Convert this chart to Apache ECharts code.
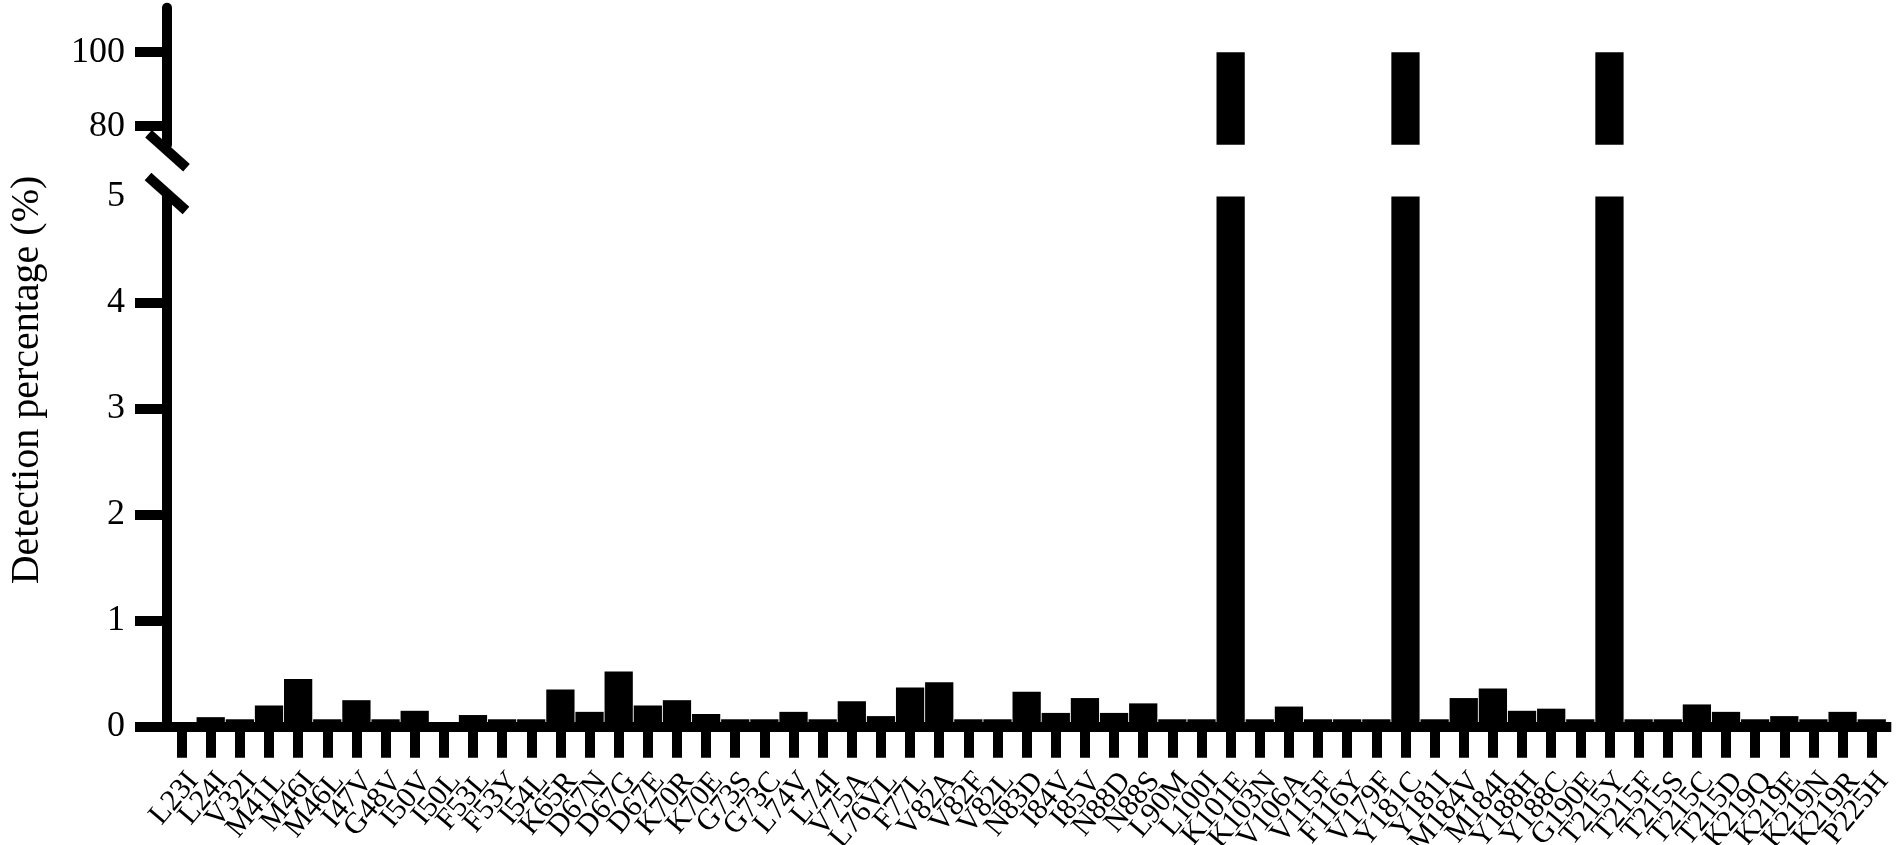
<!DOCTYPE html>
<html>
<head>
<meta charset="utf-8">
<script src="https://cdn.jsdelivr.net/npm/echarts@6/dist/echarts.min.js"></script>
<style>
  html, body { margin: 0; background: #fff; }
  #chart { width: 1902px; height: 845px; }
</style>
</head>
<body>
<div id="chart"></div>
<script>
// mutations on the x axis
const mutations = ['L23I', 'L24I', 'V32I', 'M41L', 'M46I', 'M46L', 'I47V', 'G48V', 'I50V', 'I50L',
  'F53L', 'F53Y', 'I54L', 'K65R', 'D67N', 'D67G', 'D67E', 'K70R', 'K70E', 'G73S',
  'G73C', 'L74V', 'L74I', 'V75A', 'L76VL', 'F77L', 'V82A', 'V82F', 'V82L', 'N83D',
  'I84V', 'I85V', 'N88D', 'N88S', 'L90M', 'L100I', 'K101E', 'K103N', 'V106A', 'V115F',
  'F116Y', 'V179F', 'Y181C', 'Y181I', 'M184V', 'M184I', 'Y188H', 'Y188C', 'G190E', 'T215Y',
  'T215F', 'T215S', 'T215C', 'T215D', 'K219Q', 'K219E', 'K219N', 'K219R', 'P225H'];
// detection percentage (%)
const detection = [0.04, 0.09, 0.07, 0.2, 0.45, 0.07, 0.25, 0.07, 0.15, 0.04,
  0.11, 0.07, 0.07, 0.35, 0.14, 0.52, 0.2, 0.25, 0.12, 0.07,
  0.07, 0.14, 0.07, 0.24, 0.1, 0.37, 0.42, 0.07, 0.07, 0.33,
  0.13, 0.27, 0.13, 0.22, 0.07, 0.07, 100, 0.07, 0.19, 0.07,
  0.07, 0.07, 100, 0.07, 0.27, 0.36, 0.15, 0.17, 0.07, 100,
  0.07, 0.07, 0.21, 0.14, 0.07, 0.1, 0.07, 0.14, 0.07];
// y tick values, lower and upper segment of the broken axis
const lowTicks = [0, 1, 2, 3, 4];
const lowLabels = [0, 1, 2, 3, 4, 5];
const highTicks = [80, 100];
const lowRange = [0, 5];
const highRange = [75, 112];

const FONT = 'Liberation Serif';
const gridLeft = 167, gridRight = 15.7;

let chart = echarts.init(document.getElementById('chart'));

const yCommon = {
  type: 'value',
  splitLine: { show: false },
  axisLine: { show: true, lineStyle: { color: '#000', width: 10 } },
  axisTick: { show: true, length: 32, lineStyle: { color: '#000', width: 10 } },
  axisLabel: { color: '#000', fontFamily: FONT, fontSize: 36, margin: 42 }
};

let option = {
  animation: false,
  backgroundColor: '#fff',
  grid: [
    { left: gridLeft, right: gridRight, top: 7.8, height: 136.9, outerBoundsMode: 'none' },
    { left: gridLeft, right: gridRight, top: 196.5, bottom: 118.3, outerBoundsMode: 'none' }
  ],
  xAxis: [
    { type: 'category', gridIndex: 0, data: mutations, show: false },
    {
      type: 'category', gridIndex: 1, data: mutations,
      axisLine: { show: true, lineStyle: { color: '#000', width: 10, cap: 'square' } },
      axisTick: { show: true, interval: 0, alignWithLabel: true, length: 31, lineStyle: { color: '#000', width: 10 } },
      axisLabel: {
        interval: 0, rotate: 50, verticalAlign: 'top',
        color: '#000', fontFamily: FONT, fontSize: 30, margin: 40
      }
    }
  ],
  yAxis: [
    Object.assign({}, yCommon, {
      gridIndex: 0, min: highRange[0], max: highRange[1],
      axisTick: Object.assign({}, yCommon.axisTick, { customValues: highTicks }),
      axisLabel: Object.assign({}, yCommon.axisLabel, { customValues: highTicks })
    }),
    Object.assign({}, yCommon, {
      gridIndex: 1, min: lowRange[0], max: lowRange[1], interval: 1,
      axisTick: Object.assign({}, yCommon.axisTick, { customValues: lowTicks }),
      axisLabel: Object.assign({}, yCommon.axisLabel, { customValues: lowLabels })
    })
  ],
  series: [
    {
      type: 'bar', xAxisIndex: 0, yAxisIndex: 0, clip: true,
      barCategoryGap: '3%',
      itemStyle: { color: '#000' },
      data: detection.map(v => (v >= highRange[0] ? v : null))
    },
    {
      type: 'bar', xAxisIndex: 1, yAxisIndex: 1, clip: true,
      barCategoryGap: '3%',
      itemStyle: { color: '#000' },
      data: detection
    }
  ],
  graphic: [
    {
      type: 'text', x: 27, y: 380, rotation: Math.PI / 2,
      style: {
        text: 'Detection percentage (%)', fill: '#000',
        font: '40px "Liberation Serif"', textAlign: 'center', textVerticalAlign: 'middle'
      }
    }
  ]
};
chart.setOption(option);

// break marks on the y axis
const yHighBottom = chart.convertToPixel({ yAxisIndex: 0 }, highRange[0]);
const yLowTop = chart.convertToPixel({ yAxisIndex: 1 }, lowRange[1]);
function slash(cx, cy) {
  return {
    type: 'line', z: 100,
    shape: { x1: cx - 19, y1: cy - 17, x2: cx + 19, y2: cy + 17 },
    style: { stroke: '#000', lineWidth: 10 }
  };
}
chart.setOption({
  graphic: [
    option.graphic[0],
    slash(gridLeft + 0.5, yHighBottom + 6),
    slash(gridLeft, yLowTop - 3)
  ]
});

window.addEventListener('resize', () => chart.resize(), false);
</script>
</body>
</html>
